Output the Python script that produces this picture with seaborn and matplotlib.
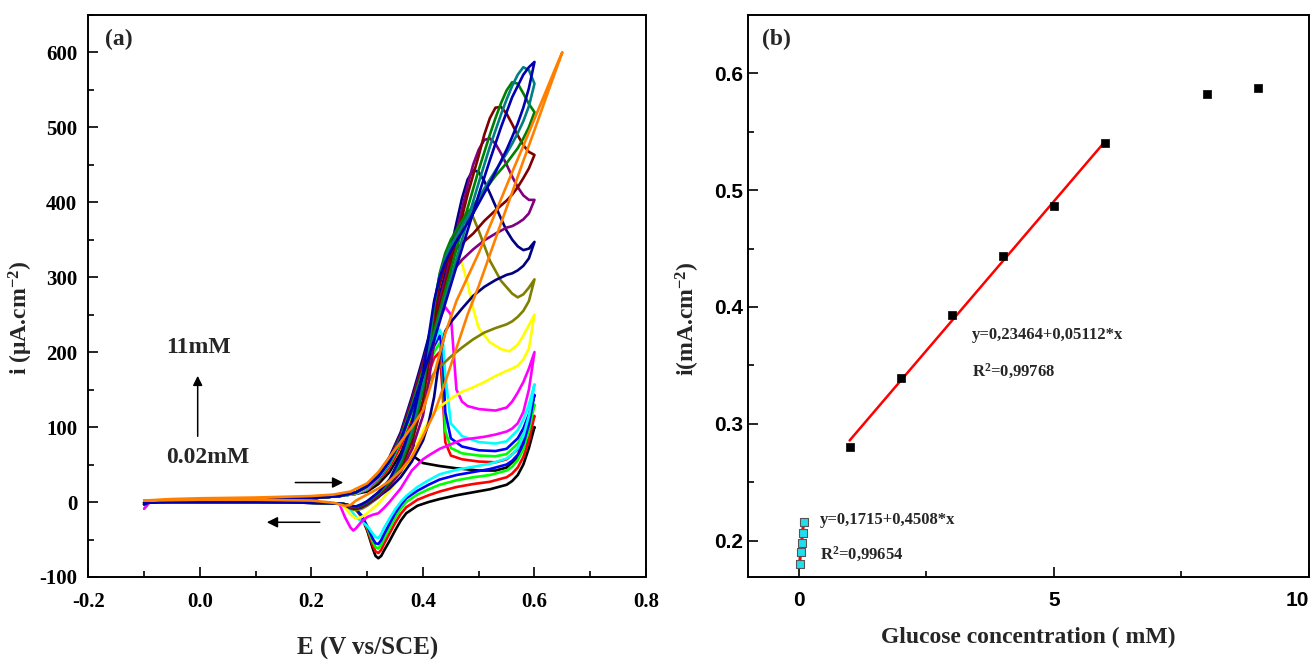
import matplotlib
matplotlib.use("Agg")
import matplotlib.pyplot as plt
from matplotlib.ticker import MultipleLocator, FixedLocator, FormatStrFormatter
import seaborn as sns

sns.set_theme(style="ticks")
plt.rcParams["font.family"] = ["Liberation Serif", "DejaVu Serif"]
plt.rcParams["font.weight"] = "bold"
plt.rcParams["axes.unicode_minus"] = False
plt.rcParams["mathtext.fontset"] = "custom"
plt.rcParams["mathtext.rm"] = "Liberation Serif:bold"
plt.rcParams["mathtext.it"] = "Liberation Serif:bold"
plt.rcParams["mathtext.bf"] = "Liberation Serif:bold"

# ---------------- (a) cyclic voltammograms ----------------
# shared flat part of every sweep
BASE_FWD_E = [-0.10, -0.09, -0.05, 0.00, 0.10, 0.20, 0.25]
BASE_FWD_I = [-3, 0, 1, 2, 3, 5, 8]
BASE_REV_E = [0.25, 0.20, 0.10, 0.00, -0.05, -0.10]
BASE_REV_I = [-2, -1, 0, 0, 0, -1]

LOW_FWD_E = [0.28, 0.30, 0.32, 0.34, 0.36, 0.38, 0.40, 0.42, 0.43, 0.435, 0.44,
             0.45, 0.47, 0.50, 0.53, 0.55, 0.57, 0.58, 0.59, 0.60]
LOW_REV_E = [0.60, 0.59, 0.58, 0.57, 0.56, 0.55, 0.52, 0.49, 0.46, 0.43, 0.41,
             0.39, 0.37, 0.36, 0.35, 0.34, 0.33, 0.325, 0.32, 0.315, 0.31, 0.30,
             0.29, 0.28, 0.27, 0.26]
HIGH_REV_E = [0.60, 0.59, 0.58, 0.57, 0.56, 0.55, 0.53, 0.51, 0.49, 0.47, 0.45,
              0.44, 0.43, 0.42, 0.41, 0.40, 0.38, 0.36, 0.34, 0.32, 0.30, 0.29,
              0.28, 0.27, 0.26]

black_fwd_E = [0.28, 0.30, 0.32, 0.34, 0.36, 0.375, 0.38, 0.385, 0.40, 0.43, 0.46,
               0.50, 0.53, 0.55, 0.57, 0.58, 0.59, 0.60]
black_fwd_i = [11, 14, 24, 40, 65, 92, 104, 60, 52, 48, 45, 42, 42, 46, 60, 72, 85, 100]
black_rev_i = [100, 72, 50, 36, 28, 23, 17, 13, 9, 4, 0, -5, -15, -25, -38, -52, -65,
               -72, -75, -72, -62, -38, -20, -10, -5, -3]

red_fwd_i = [11, 16, 28, 46, 74, 110, 150, 192, 200, 150, 80, 62, 57, 54, 53, 57, 70, 82, 97, 115]
red_rev_i = [115, 82, 60, 46, 38, 33, 27, 24, 20, 14, 9, 3, -7, -16, -28, -42, -56, -64,
             -68, -66, -58, -36, -19, -10, -5, -3]

green_fwd_i = [11, 17, 30, 50, 80, 118, 160, 200, 212, 185, 95, 72, 65, 62, 61, 64, 78, 90, 107, 130]
green_rev_i = [130, 95, 70, 56, 47, 42, 36, 33, 29, 23, 17, 10, 0, -9, -21, -35, -49, -57,
               -62, -60, -53, -34, -18, -10, -5, -3]

blue_fwd_i = [11, 18, 31, 52, 83, 122, 166, 208, 222, 205, 120, 85, 74, 69, 68, 71, 85, 98, 117, 143]
blue_rev_i = [143, 104, 78, 63, 55, 50, 44, 40, 36, 30, 23, 15, 5, -4, -15, -29, -43, -51,
              -56, -55, -49, -32, -18, -10, -5, -3]

cyan_fwd_i = [11, 18, 32, 53, 85, 125, 170, 213, 230, 222, 170, 105, 88, 80, 78, 81, 96, 110, 130, 157]
cyan_rev_i = [157, 115, 88, 72, 63, 58, 51, 47, 43, 37, 29, 20, 8, 0, -10, -22, -35, -43,
              -48, -47, -42, -32, -26, -20, -10, -4]

magenta_fwd_E = [0.28, 0.30, 0.32, 0.34, 0.36, 0.38, 0.40, 0.42, 0.43, 0.44, 0.45, 0.455,
                 0.46, 0.47, 0.48, 0.50, 0.53, 0.55, 0.56, 0.57, 0.58, 0.59, 0.60]
magenta_fwd_i = [12, 19, 33, 55, 87, 128, 175, 225, 245, 260, 250, 200, 150, 134, 128, 124,
                 122, 126, 134, 146, 160, 178, 200]
magenta_rev_E = [0.60, 0.59, 0.58, 0.57, 0.56, 0.55, 0.53, 0.51, 0.49, 0.47, 0.45, 0.43,
                 0.41, 0.40, 0.38, 0.36, 0.34, 0.33, 0.32, 0.31, 0.30, 0.29, 0.28, 0.275,
                 0.27, 0.26]
magenta_rev_i = [200, 150, 120, 105, 98, 94, 90, 87, 85, 83, 77, 71, 62, 57, 42, 18, 0, -8,
                 -15, -17, -20, -26, -35, -38, -34, -20]

yellow_fwd_E = [0.28, 0.30, 0.32, 0.34, 0.36, 0.38, 0.40, 0.42, 0.43, 0.44, 0.45, 0.46,
                0.47, 0.48, 0.49, 0.50, 0.52, 0.54, 0.555, 0.57, 0.58, 0.59, 0.60]
yellow_fwd_i = [12, 20, 34, 57, 89, 132, 180, 232, 258, 285, 310, 330, 318, 292, 258, 232,
                213, 204, 201, 210, 222, 236, 250]
yellow_rev_E = [0.60, 0.59, 0.58, 0.57, 0.56, 0.55, 0.53, 0.51, 0.49, 0.47, 0.45, 0.43,
                0.42, 0.41, 0.40, 0.38, 0.36, 0.34, 0.32, 0.30, 0.29, 0.28, 0.27, 0.26]
yellow_rev_i = [250, 205, 190, 182, 178, 175, 168, 160, 153, 147, 138, 127, 120, 108, 95,
                62, 34, 15, -2, -15, -20, -22, -17, -7]

olive_fwd_E = [0.28, 0.30, 0.32, 0.34, 0.36, 0.38, 0.40, 0.42, 0.43, 0.44, 0.45, 0.46,
               0.47, 0.48, 0.49, 0.50, 0.52, 0.54, 0.56, 0.57, 0.58, 0.59, 0.60]
olive_fwd_i = [12, 21, 35, 58, 90, 135, 185, 238, 265, 293, 322, 352, 378, 388, 380, 362,
               322, 295, 278, 273, 277, 286, 297]
olive_rev_i = [297, 268, 255, 247, 241, 237, 232, 226, 217, 206, 194, 187, 180, 172, 160,
               135, 80, 45, 22, 6, -5, -9, -11, -9, -4]

navy_fwd_E = [0.28, 0.30, 0.32, 0.34, 0.36, 0.38, 0.40, 0.42, 0.44, 0.45, 0.46, 0.47, 0.48,
              0.49, 0.50, 0.51, 0.52, 0.53, 0.54, 0.55, 0.56, 0.57, 0.58, 0.59, 0.60]
navy_fwd_i = [13, 22, 37, 60, 93, 140, 192, 247, 305, 338, 372, 405, 430, 443, 440, 428,
              412, 395, 378, 362, 350, 341, 336, 338, 347]
navy_rev_i = [347, 325, 315, 309, 305, 303, 296, 287, 275, 258, 240, 228, 195, 140, 105,
              82, 54, 33, 18, 7, -3, -7, -9, -8, -4]

purple_fwd_E = [0.28, 0.30, 0.32, 0.34, 0.36, 0.38, 0.40, 0.42, 0.44, 0.46, 0.48, 0.49,
                0.50, 0.51, 0.52, 0.53, 0.54, 0.55, 0.56, 0.57, 0.58, 0.59, 0.60]
purple_fwd_i = [13, 21, 36, 58, 90, 136, 186, 240, 297, 360, 422, 450, 470, 483, 485, 478,
                465, 450, 434, 420, 409, 403, 403]
purple_rev_i = [403, 385, 377, 372, 368, 366, 358, 349, 337, 323, 305, 292, 268, 215, 158,
                115, 70, 40, 22, 8, -2, -6, -8, -7, -3]

wine_fwd_E = [0.28, 0.30, 0.32, 0.34, 0.36, 0.38, 0.40, 0.42, 0.44, 0.46, 0.48, 0.50, 0.51,
              0.52, 0.53, 0.54, 0.55, 0.56, 0.57, 0.58, 0.59, 0.60]
wine_fwd_i = [13, 21, 35, 57, 88, 133, 182, 235, 290, 350, 410, 462, 490, 512, 526, 527,
              518, 504, 489, 476, 467, 463]
wine_rev_i = [463, 445, 432, 420, 410, 402, 389, 375, 358, 345, 330, 315, 290, 245, 185,
              135, 80, 45, 24, 10, -1, -5, -8, -7, -3]

dkgreen_fwd_E = [0.28, 0.30, 0.32, 0.34, 0.36, 0.38, 0.40, 0.42, 0.44, 0.46, 0.48, 0.50,
                 0.52, 0.53, 0.54, 0.55, 0.56, 0.57, 0.58, 0.59, 0.60]
dkgreen_fwd_i = [13, 21, 35, 56, 86, 129, 177, 228, 282, 337, 392, 443, 490, 512, 532, 549,
                 560, 558, 545, 531, 520]
dkgreen_rev_i = [520, 500, 485, 472, 462, 452, 435, 415, 395, 375, 350, 332, 305, 260, 200,
                 150, 88, 50, 26, 11, 0, -4, -7, -6, -3]

teal_fwd_E = [0.28, 0.30, 0.32, 0.34, 0.36, 0.38, 0.40, 0.42, 0.44, 0.46, 0.48, 0.50, 0.52,
              0.54, 0.55, 0.56, 0.57, 0.58, 0.59, 0.60]
teal_fwd_i = [13, 21, 34, 55, 85, 127, 173, 222, 272, 324, 376, 426, 474, 517, 537, 555,
              570, 580, 576, 558]
teal_rev_i = [558, 528, 508, 492, 478, 465, 442, 418, 393, 368, 342, 326, 303, 265, 208,
              158, 95, 55, 28, 12, 1, -3, -6, -5, -3]

royal_fwd_E = [0.28, 0.30, 0.32, 0.34, 0.36, 0.38, 0.40, 0.42, 0.44, 0.46, 0.48, 0.50,
               0.52, 0.54, 0.56, 0.58, 0.59, 0.60]
royal_fwd_i = [13, 21, 34, 54, 83, 124, 169, 216, 265, 314, 362, 410, 456, 500, 540, 570,
               580, 587]
royal_rev_i = [587, 552, 526, 505, 487, 470, 440, 412, 385, 360, 335, 320, 300, 268, 220,
               172, 105, 60, 30, 13, 1, -3, -6, -5, -3]

orange_fwd_E = [-0.10, -0.05, 0.00, 0.10, 0.20, 0.24, 0.27, 0.30, 0.32, 0.34, 0.36, 0.38,
                0.40, 0.42, 0.44, 0.46, 0.48, 0.50, 0.52, 0.54, 0.56, 0.58, 0.60, 0.62,
                0.64, 0.65]
orange_fwd_i = [2, 4, 5, 6, 8, 10, 14, 25, 40, 60, 80, 100, 122, 170, 225, 268, 300, 332,
                368, 404, 440, 475, 511, 547, 583, 600]
orange_rev_E = [0.65, 0.62, 0.60, 0.58, 0.56, 0.54, 0.52, 0.50, 0.48, 0.46, 0.44, 0.42,
                0.40, 0.38, 0.36, 0.34, 0.32, 0.30, 0.28, 0.27, 0.26, 0.24, 0.20, 0.10,
                0.00, -0.10]
orange_rev_i = [600, 538, 496, 455, 413, 372, 330, 288, 250, 205, 160, 118, 88, 60, 42, 28,
                18, 10, 2, -4, -5, -1, 2, 3, 3, 2]

# draw order and colours (lowest to highest glucose concentration)
cv_curves = [
    ("#000000", black_fwd_E, black_fwd_i, LOW_REV_E, black_rev_i),
    ("#FF0000", LOW_FWD_E, red_fwd_i, LOW_REV_E, red_rev_i),
    ("#00FF00", LOW_FWD_E, green_fwd_i, LOW_REV_E, green_rev_i),
    ("#0000FF", LOW_FWD_E, blue_fwd_i, LOW_REV_E, blue_rev_i),
    ("#00FFFF", LOW_FWD_E, cyan_fwd_i, LOW_REV_E, cyan_rev_i),
    ("#FF00FF", magenta_fwd_E, magenta_fwd_i, magenta_rev_E, magenta_rev_i),
    ("#FFFF00", yellow_fwd_E, yellow_fwd_i, yellow_rev_E, yellow_rev_i),
    ("#808000", olive_fwd_E, olive_fwd_i, HIGH_REV_E, olive_rev_i),
    ("#000080", navy_fwd_E, navy_fwd_i, HIGH_REV_E, navy_rev_i),
    ("#800080", purple_fwd_E, purple_fwd_i, HIGH_REV_E, purple_rev_i),
    ("#800000", wine_fwd_E, wine_fwd_i, HIGH_REV_E, wine_rev_i),
    ("#008000", dkgreen_fwd_E, dkgreen_fwd_i, HIGH_REV_E, dkgreen_rev_i),
    ("#008080", teal_fwd_E, teal_fwd_i, HIGH_REV_E, teal_rev_i),
    ("#0000B0", royal_fwd_E, royal_fwd_i, HIGH_REV_E, royal_rev_i),
]

# ---------------- (b) calibration ----------------
conc_mM = [1, 2, 3, 4, 5, 6, 8, 9]
peak_mA = [0.280, 0.339, 0.393, 0.444, 0.486, 0.540, 0.582, 0.587]
low_conc_mM = [0.02, 0.04, 0.06, 0.08, 0.10]
low_peak_mA = [0.180, 0.190, 0.198, 0.207, 0.216]
fit_high = (0.23464, 0.05112)
fit_low = (0.1715, 0.4508)

fig = plt.figure(figsize=(13.12, 6.6), dpi=100)
W, H = 1312, 660
ax_a = fig.add_axes([88.4 / W, 1 - 577 / H, (646 - 88.4) / W, (577 - 14.7) / H])
ax_b = fig.add_axes([747.5 / W, 1 - 577 / H, (1309 - 747.5) / W, (577 - 14.7) / H])

for color, fE, fI, rE, rI in cv_curves:
    E = BASE_FWD_E + fE + rE + BASE_REV_E
    I = BASE_FWD_I + fI + rI + BASE_REV_I
    if color in ("#00FFFF", "#FF00FF"):
        I = [-9] + I[1:]
    sns.lineplot(x=E, y=I, sort=False, estimator=None, color=color, lw=1.9, ax=ax_a)
sns.lineplot(x=orange_fwd_E + orange_rev_E, y=orange_fwd_i + orange_rev_i, sort=False,
             estimator=None, color="#FF8000", lw=1.9, ax=ax_a)

ax_a.set_xlim(-0.2, 0.8)
ax_a.set_ylim(-100, 650)
ax_a.xaxis.set_major_locator(MultipleLocator(0.2))
ax_a.xaxis.set_minor_locator(MultipleLocator(0.1))
ax_a.xaxis.set_major_formatter(FormatStrFormatter("%.1f"))
ax_a.yaxis.set_major_locator(FixedLocator([-100, 0, 100, 200, 300, 400, 500, 600]))
ax_a.yaxis.set_minor_locator(MultipleLocator(50))

ax_a.annotate("", xy=(0.262, 26), xytext=(0.166, 26),
              arrowprops=dict(arrowstyle="-|>", color="black", lw=1.1, mutation_scale=16))
ax_a.annotate("", xy=(0.115, -27), xytext=(0.22, -27),
              arrowprops=dict(arrowstyle="-|>", color="black", lw=1.1, mutation_scale=16))
ax_a.annotate("", xy=(-0.004, 172), xytext=(-0.004, 84),
              arrowprops=dict(arrowstyle="-|>", color="black", lw=1.1, mutation_scale=14))
ax_a.text(-0.06, 206, "11mM", fontsize=17, fontweight="bold", va="center", ha="left")
ax_a.text(-0.06, 60, "0.02mM", fontsize=17, fontweight="bold", va="center", ha="left")
ax_a.text(0.03, 0.975, "(a)", transform=ax_a.transAxes, fontsize=17, fontweight="bold",
          va="top", ha="left")
ax_a.set_xlabel("E (V vs/SCE)", fontsize=18, fontweight="bold", labelpad=18)
ax_a.set_ylabel(r"i (μA.cm$^{-2}$)", fontsize=17, fontweight="bold")
ax_a.yaxis.set_label_coords(-0.095, 0.46)

# panel b
sns.lineplot(x=[low_conc_mM[0], low_conc_mM[-1]],
             y=[fit_low[0] + fit_low[1] * low_conc_mM[0], fit_low[0] + fit_low[1] * low_conc_mM[-1]],
             color="red", lw=2.2, ax=ax_b)
sns.lineplot(x=[conc_mM[0], conc_mM[5]],
             y=[fit_high[0] + fit_high[1] * conc_mM[0], fit_high[0] + fit_high[1] * conc_mM[5]],
             color="red", lw=1.8, ax=ax_b)
sns.scatterplot(x=conc_mM, y=peak_mA, marker="s", color="black", edgecolor="black",
                s=38, ax=ax_b, zorder=3)
sns.scatterplot(x=low_conc_mM, y=low_peak_mA, marker="s", color="#22DDEE", edgecolor="#555555",
                linewidth=0.8, s=40, ax=ax_b, zorder=3)

ax_b.set_xlim(-1.0, 10.0)
ax_b.set_ylim(0.169, 0.65)
ax_b.xaxis.set_major_locator(FixedLocator([0, 5, 10]))
ax_b.xaxis.set_minor_locator(FixedLocator([2.5, 7.5]))
ax_b.yaxis.set_major_locator(FixedLocator([0.2, 0.3, 0.4, 0.5, 0.6]))
ax_b.yaxis.set_minor_locator(FixedLocator([0.25, 0.35, 0.45, 0.55]))
ax_b.yaxis.set_major_formatter(FormatStrFormatter("%.1f"))

ax_b.text(3.4, 0.376, "y=0,23464+0,05112*x", fontsize=12, fontweight="bold", va="center")
ax_b.text(3.4, 0.345, "R$^2$=0,99768", fontsize=12, fontweight="bold", va="center")
ax_b.text(0.42, 0.218, "y=0,1715+0,4508*x", fontsize=12, fontweight="bold", va="center")
ax_b.text(0.42, 0.188, "R$^2$=0,99654", fontsize=12, fontweight="bold", va="center")
ax_b.text(0.025, 0.975, "(b)", transform=ax_b.transAxes, fontsize=17, fontweight="bold",
          va="top", ha="left")
ax_b.set_xlabel("Glucose concentration ( mM)", fontsize=17, fontweight="bold", labelpad=12)
ax_b.set_ylabel(r"i(mA.cm$^{-2}$)", fontsize=17, fontweight="bold")
ax_b.yaxis.set_label_coords(-0.081, 0.46)

for ax in (ax_a, ax_b):
    for sp in ax.spines.values():
        sp.set_visible(True)
        sp.set_linewidth(1.4)
        sp.set_color("black")
    ax.tick_params(which="both", direction="in", top=False, right=False, width=1.2,
                   colors="black")
    ax.tick_params(which="major", length=7)
    ax.tick_params(which="minor", length=4)
    ax.set_facecolor("white")
    ax.grid(False)

for lab in ax_a.get_xticklabels() + ax_a.get_yticklabels():
    lab.set_fontsize(15)
    lab.set_fontweight("bold")
for lab in ax_b.get_xticklabels() + ax_b.get_yticklabels():
    lab.set_family(["Liberation Sans"])
    lab.set_fontsize(15)
    lab.set_fontweight("bold")
ax_b.get_xticklabels()[-1].set_horizontalalignment("right")
ax_a.tick_params(axis="x", pad=11)
ax_a.tick_params(axis="y", pad=8)
ax_b.tick_params(axis="x", pad=10)

fig.savefig("out.png", dpi=100, facecolor="white")
